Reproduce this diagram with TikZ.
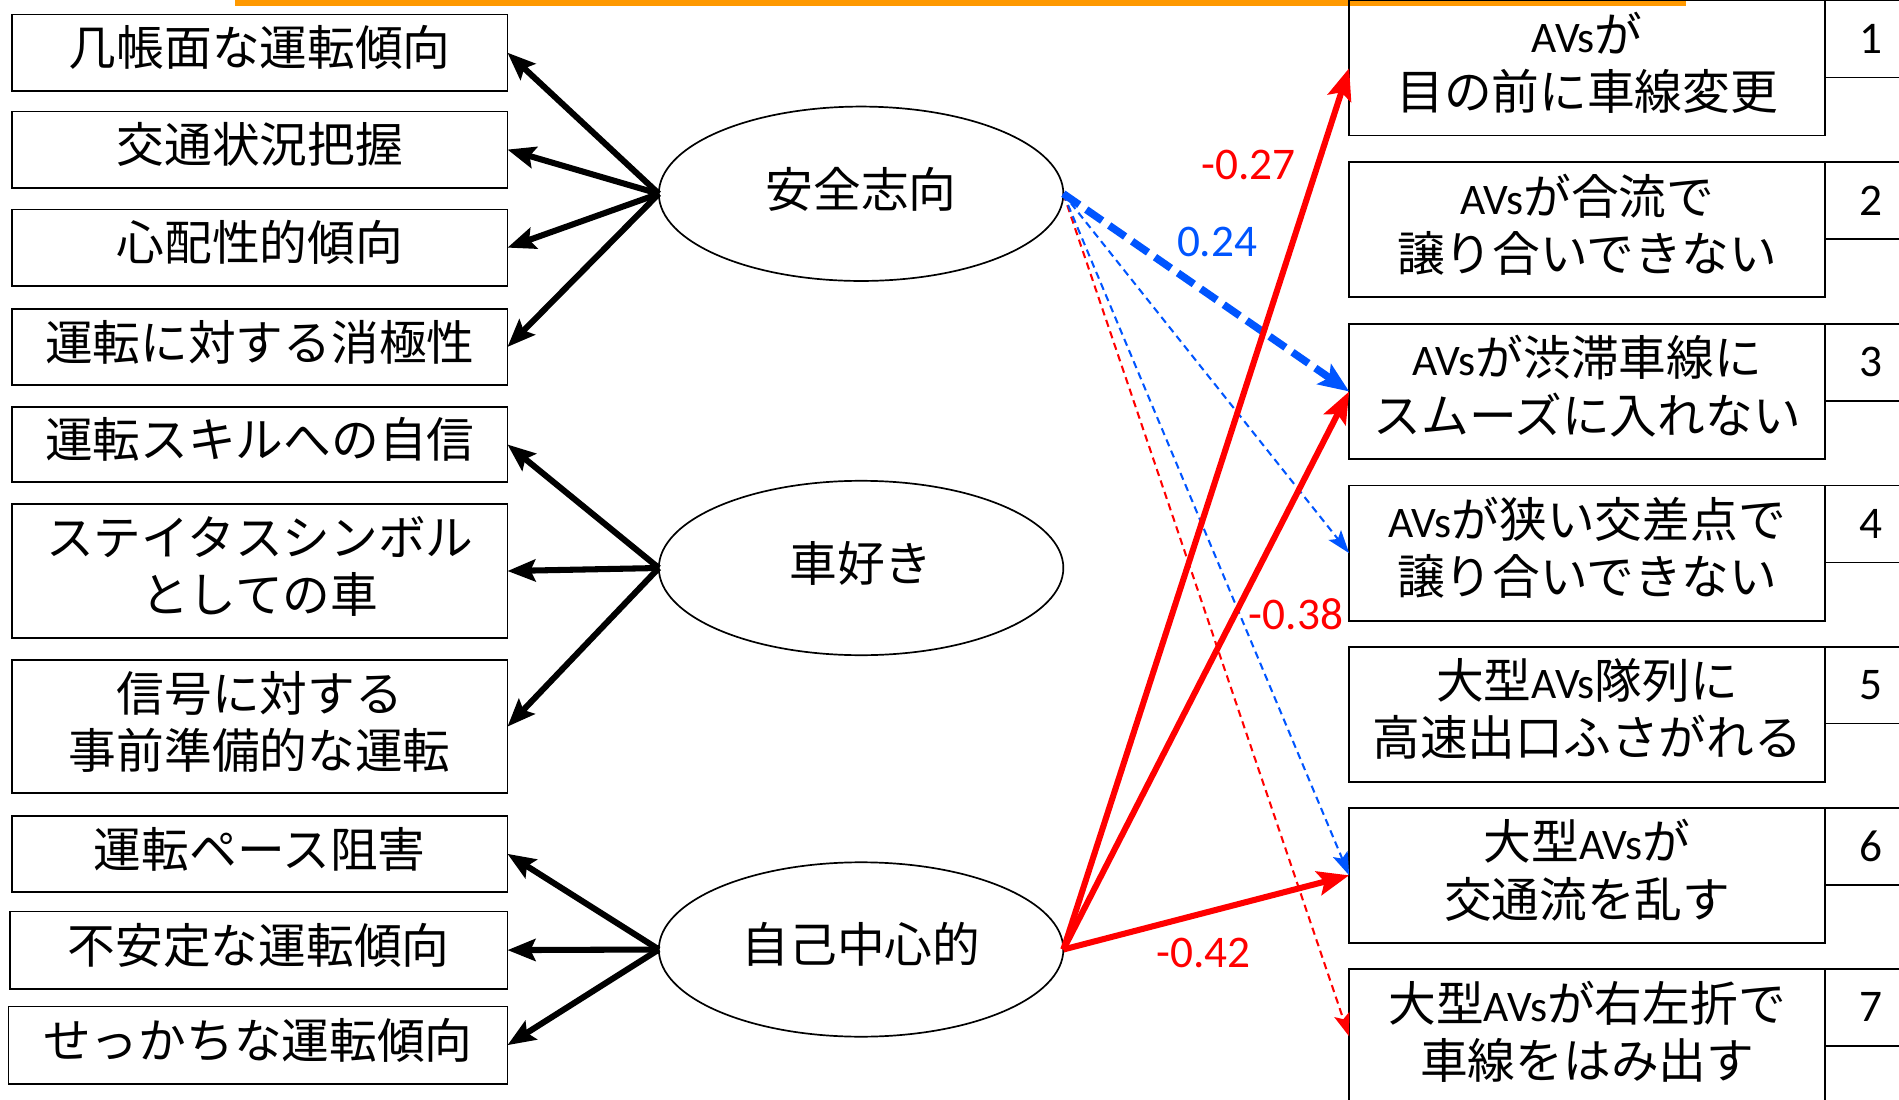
\documentclass[tikz,border=0pt]{standalone}
\usepackage{fontspec}
\setmainfont{Noto Sans CJK JP}
\newfontfamily\latf{Carlito}
\usetikzlibrary{arrows.meta,shapes.geometric}
\definecolor{myred}{RGB}{255,0,0}
\definecolor{myblue}{RGB}{0,85,255}
\definecolor{myorange}{RGB}{255,153,0}
\newcommand{\AVs}{{\latf\fontsize{18}{23.3}\selectfont AVs}}
\newcommand{\jpsize}{\fontsize{19.7}{23.3}\selectfont}
\newcommand{\numsize}{\latf\fontsize{18.7}{22}\selectfont}
\newcommand{\up}[1]{\raisebox{2pt}[\height][\depth]{#1}}
\newcommand{\two}[2]{\raisebox{-0.6pt}[\height][\depth]{\begin{tabular}{@{}c@{}}#1\\#2\end{tabular}}}
\tikzset{
  lbox/.style={draw, line width=0.7pt, inner sep=0pt, outer sep=0pt, minimum width=204.5pt, font=\jpsize},
  rbox/.style={draw, line width=0.7pt, inner sep=0pt, outer sep=0pt, minimum width=196.5pt, minimum height=55.75pt, font=\jpsize},
  numcell/.style={draw, line width=0.7pt, inner sep=0pt, outer sep=0pt, minimum width=38pt, minimum height=31.75pt, anchor=north west, font=\numsize},
  latent/.style={draw, ellipse, line width=0.7pt, inner sep=0pt, outer sep=0pt, minimum width=167pt, minimum height=72pt, font=\jpsize},
  blk/.style={line width=2.5pt, -{Stealth[length=11.5pt,width=9pt,inset=2pt]}},
  redthick/.style={draw=myred, line width=2.5pt, -{Stealth[length=13pt,width=10pt,inset=2.5pt]}},
  bluethick/.style={draw=myblue, line width=3.1pt, dash pattern=on 8pt off 3.5pt, -{Stealth[length=12.5pt,width=10pt,inset=2.5pt]}},
  thinblue/.style={draw=myblue, line width=0.85pt, dash pattern=on 3pt off 2pt, -{Stealth[length=9.5pt,width=6.5pt,inset=2pt]}},
  thinred/.style={draw=myred, line width=0.85pt, dash pattern=on 3pt off 2pt, -{Stealth[length=9.5pt,width=6.5pt,inset=2pt]}},
  coef/.style={inner sep=0pt, font=\numsize}
}
\begin{document}
\begin{tikzpicture}[x=0.5pt, y=-0.5pt]
\useasboundingbox (0,0) rectangle (1568,908);
\clip (0,0) rectangle (1568,908);
\fill[white] (0,0) rectangle (1568,908);
\fill[myorange] (194,0) rectangle (1392,5);

% left indicator boxes
\node[lbox, minimum height=31.5pt] (L1) at (214.5,43.5) {\up{几帳面な運転傾向}};
\node[lbox, minimum height=31.5pt] (L2) at (214.5,123.5) {\up{交通状況把握}};
\node[lbox, minimum height=31.5pt] (L3) at (214.5,204.5) {\up{心配性的傾向}};
\node[lbox, minimum height=31.5pt] (L4) at (214.5,286.5) {\up{運転に対する消極性}};
\node[lbox, minimum height=31pt] (L5) at (214.5,367) {\up{運転スキルへの自信}};
\node[lbox, minimum height=55.5pt] (L6) at (214.5,471.5) {\two{ステイタスシンボル}{としての車}};
\node[lbox, minimum height=55pt] (L7) at (214.5,600) {\two{信号に対する}{事前準備的な運転}};
\node[lbox, minimum height=31.5pt] (L8) at (214.5,705) {\up{運転ペース阻害}};
\node[lbox, minimum height=32pt, minimum width=205.5pt] (L9) at (213.5,784.5) {\up{不安定な運転傾向}};
\node[lbox, minimum height=32pt, minimum width=206pt] (L10) at (213,863) {\up{せっかちな運転傾向}};

% latent factors
\node[latent] (E1) at (711,160) {\up{安全志向}};
\node[latent] (E2) at (711,469) {\up{車好き}};
\node[latent] (E3) at (711,784) {\up{自己中心的}};

% right outcome boxes
\node[rbox] (R1) at (1310.5,56.25) {\two{\AVs が}{目の前に車線変更}};
\node[rbox] (R2) at (1310.5,189.75) {\two{\AVs が合流で}{譲り合いできない}};
\node[rbox] (R3) at (1310.5,323.25) {\two{\AVs が渋滞車線に}{スムーズに入れない}};
\node[rbox] (R4) at (1310.5,456.75) {\two{\AVs が狭い交差点で}{譲り合いできない}};
\node[rbox] (R5) at (1310.5,589.75) {\two{大型\AVs 隊列に}{高速出口ふさがれる}};
\node[rbox] (R6) at (1310.5,722.75) {\two{大型\AVs が}{交通流を乱す}};
\node[rbox] (R7) at (1310.5,855.75) {\two{大型\AVs が右左折で}{車線をはみ出す}};

% number cells
\node[numcell] (N1) at (R1.north east) {1};
\node[numcell] (N2) at (R2.north east) {2};
\node[numcell] (N3) at (R3.north east) {3};
\node[numcell] (N4) at (R4.north east) {4};
\node[numcell] (N5) at (R5.north east) {5};
\node[numcell] (N6) at (R6.north east) {6};
\node[numcell] (N7) at (R7.north east) {7};

% loadings
\draw[blk] (E1.west) -- (L1.east);
\draw[blk] (E1.west) -- (L2.east);
\draw[blk] (E1.west) -- (L3.east);
\draw[blk] (E1.west) -- (L4.east);
\draw[blk] (E2.west) -- (L5.east);
\draw[blk] (E2.west) -- (L6.east);
\draw[blk] (E2.west) -- (L7.east);
\draw[blk] (E3.west) -- (L8.east);
\draw[blk] (E3.west) -- (L9.east);
\draw[blk] (E3.west) -- (L10.east);

% paths to outcomes
\draw[thinred] (E1.east) -- (R7.west);
\draw[thinblue] (E1.east) -- (R6.west);
\draw[thinblue] (E1.east) -- (R4.west);
\draw[bluethick] (E1.east) -- (R3.west);
\draw[redthick] (E3.east) -- (R1.west);
\draw[redthick] (E3.east) -- (R3.west);
\draw[redthick] (E3.east) -- (R6.west);

% coefficients
\node[coef, text=myred] (c1) at (1031,136) {-0.27};
\node[coef, text=myblue] (c2) at (1005,200) {0.24};
\node[coef, text=myred] (c3) at (1070,507) {-0.38};
\node[coef, text=myred] (c4) at (994,787) {-0.42};
\end{tikzpicture}
\end{document}
